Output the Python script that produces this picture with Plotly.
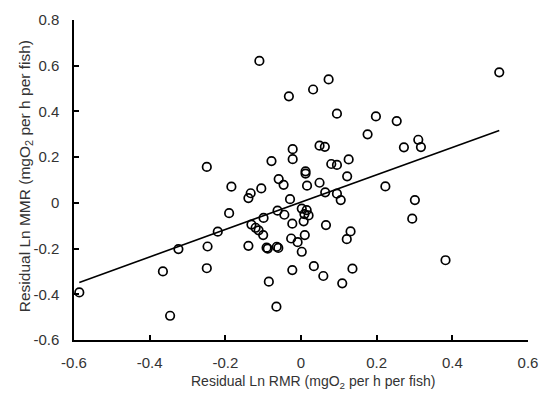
import plotly.graph_objects as go

# Residual Ln RMR (x) and Residual Ln MMR (y)
rmr = [-0.110, 0.524, 0.073, 0.032, -0.032, 0.095, 0.198, 0.253, 0.176, 0.310,
       0.317, 0.272, -0.022, 0.049, 0.063, -0.022, -0.078, 0.126, 0.080, 0.095,
       0.012, 0.012, -0.059, -0.046, 0.016, 0.122, 0.049, 0.223, 0.064, 0.095,
       -0.029, 0.105, 0.301, -0.249, -0.184, -0.133, -0.139, -0.105, -0.062, -0.044,
       0.002, 0.015, 0.009, 0.020, 0.007, -0.023, 0.066, 0.294, -0.026, -0.009,
       0.010, 0.002, 0.131, 0.121, 0.034, -0.023, 0.059, 0.136, 0.109, 0.382,
       -0.065, -0.085, -0.586, -0.324, -0.365, -0.346, -0.247, -0.249, -0.220, -0.190,
       -0.139, -0.131, -0.120, -0.112, -0.099, -0.100, -0.091, -0.088, -0.064, -0.060]
mmr = [0.621, 0.571, 0.540, 0.496, 0.466, 0.390, 0.378, 0.358, 0.300, 0.276,
       0.244, 0.243, 0.235, 0.250, 0.245, 0.191, 0.183, 0.190, 0.170, 0.166,
       0.138, 0.128, 0.104, 0.079, 0.075, 0.116, 0.088, 0.072, 0.046, 0.040,
       0.016, 0.012, 0.012, 0.157, 0.071, 0.042, 0.021, 0.063, -0.034, -0.052,
       -0.025, -0.032, -0.049, -0.055, -0.081, -0.091, -0.097, -0.069, -0.156, -0.172,
       -0.141, -0.214, -0.125, -0.159, -0.277, -0.294, -0.320, -0.288, -0.352, -0.251,
       -0.454, -0.345, -0.392, -0.202, -0.300, -0.494, -0.191, -0.286, -0.126, -0.045,
       -0.188, -0.095, -0.109, -0.120, -0.066, -0.141, -0.196, -0.200, -0.192, -0.197]

# Regression line
fit_slope = 0.599
fit_intercept = 0.003

x_ticks = [-0.6, -0.4, -0.2, 0, 0.2, 0.4, 0.6]
x_ticktext = ["-0.6", "-0.4", "-0.2", "0", "0.2", "0.4", "0.6"]
y_ticks = [-0.6, -0.4, -0.2, 0, 0.2, 0.4, 0.6, 0.8]
y_ticktext = ["-0.6", "-0.4", "-0.2", "0", "0.2", "0.4", "0.6", "0.8"]

x_title = "Residual Ln RMR (mgO<sub>2</sub> per h per fish)"
y_title = "Residual Ln MMR (mgO<sub>2</sub> per h per fish)"

line_x = [min(rmr), max(rmr)]
line_y = [fit_slope * v + fit_intercept for v in line_x]

FONT = "Liberation Sans, Arial, sans-serif"
TXT = "#333333"

fig = go.Figure()
fig.add_trace(go.Scatter(x=line_x, y=line_y, mode="lines",
                         line=dict(color="black", width=1.6),
                         hoverinfo="skip", showlegend=False))
fig.add_trace(go.Scatter(x=rmr, y=mmr, mode="markers",
                         marker=dict(symbol="circle-open", size=8.5,
                                     color="black", line=dict(width=1.7, color="black")),
                         cliponaxis=False, showlegend=False))

axis_common = dict(showline=True, linecolor="black", linewidth=1.5,
                   ticks="inside", ticklen=5, tickwidth=1.5, tickcolor="black",
                   showgrid=False, zeroline=False,
                   tickfont=dict(family=FONT, size=15, color=TXT))

fig.update_xaxes(range=[-0.6, 0.6], tickvals=x_ticks, ticktext=x_ticktext,
                 ticklabelstandoff=8, **axis_common)
fig.update_yaxes(range=[-0.6, 0.8], tickvals=y_ticks, ticktext=y_ticktext,
                 ticklabelstandoff=10, **axis_common)

L, R, T, B = 73.5, 11.7, 15, 54
W, H = 550, 394
pw = W - L - R
ph = H - T - B

fig.add_annotation(text=x_title, xref="paper", yref="paper",
                   x=(318 - L) / pw, y=-(383 - (H - B)) / ph,
                   xanchor="center", yanchor="middle", showarrow=False,
                   font=dict(family=FONT, size=14, color=TXT))
fig.add_annotation(text=y_title, xref="paper", yref="paper",
                   x=-(L - 24) / pw, y=(H - B - 174) / ph, textangle=-90,
                   xanchor="center", yanchor="middle", showarrow=False,
                   font=dict(family=FONT, size=15.5, color=TXT))

fig.update_layout(width=W, height=H,
                  margin=dict(l=L, r=R, t=T, b=B, pad=0),
                  paper_bgcolor="white", plot_bgcolor="white",
                  showlegend=False)

fig.write_html("out.html")
